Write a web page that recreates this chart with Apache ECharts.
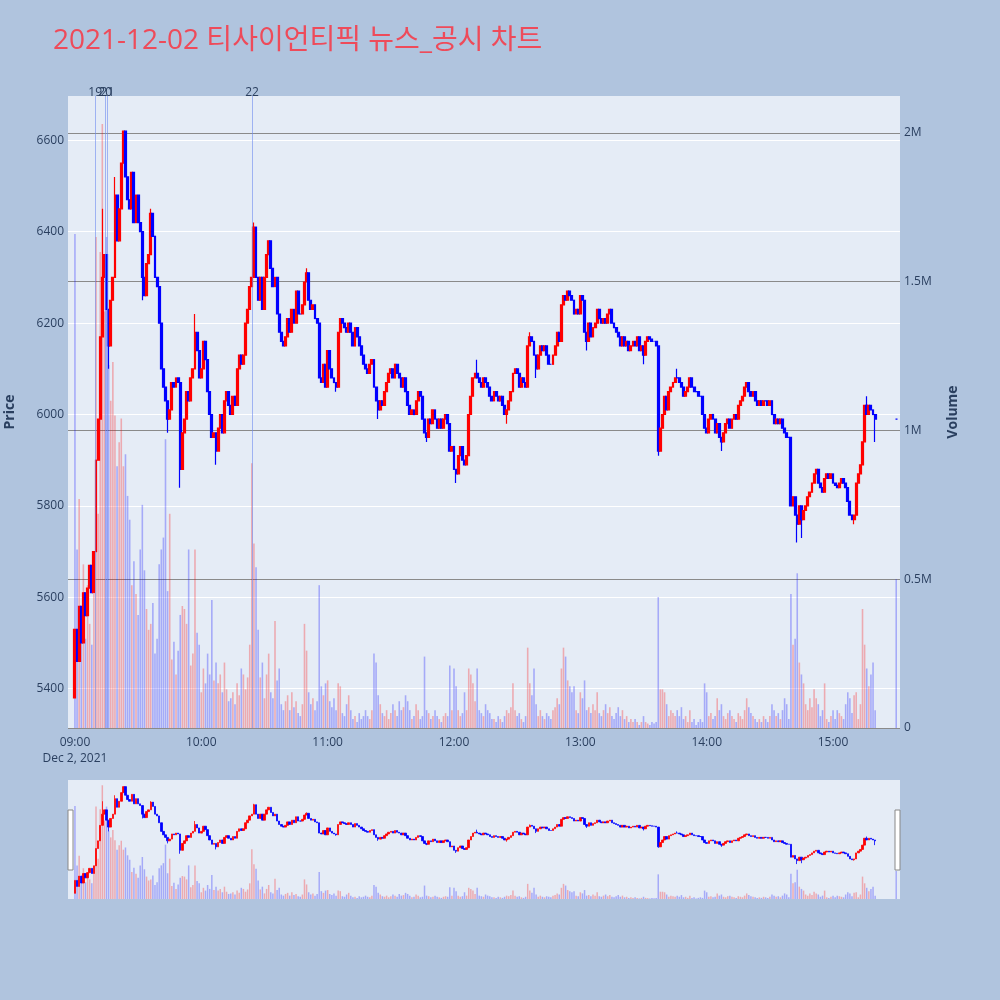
<!DOCTYPE html>
<html><head><meta charset="utf-8">
<script src="https://cdn.jsdelivr.net/npm/echarts@6/dist/echarts.min.js"></script>
<style>html,body{margin:0;padding:0;background:#b0c4de}#c{width:1000px;height:1000px}</style>
</head><body><div id="c"></div><script>
// ---------------- DATA ----------------
const chartTitle = '2021-12-02 티사이언티픽 뉴스_공시 차트';
const dateLabel = 'Dec 2, 2021';
const sessionStart = '09:00';           // first minute candle
const firstOpen = 5380;                 // opening price of the first candle
// minute closes from 09:00 to 09:00+380 min
const closes = [
5530,5460,5580,5500,5610,5560,5620,5670,5610,5700,
5900,5990,6170,6300,6350,6230,6150,6250,6300,6480,
6380,6450,6550,6620,6520,6470,6450,6530,6420,6480,
6420,6400,6300,6260,6330,6350,6440,6390,6300,6280,
6200,6100,6060,6030,5990,6010,6070,6060,6080,6070,
5880,5960,5990,6050,6030,6080,6100,6180,6140,6080,
6100,6160,6120,6050,6000,5950,5960,5920,5970,6000,
5960,6030,6050,6020,6000,6040,6020,6100,6130,6110,
6130,6200,6230,6280,6300,6410,6300,6250,6300,6230,
6300,6350,6380,6320,6280,6300,6220,6180,6160,6150,
6170,6210,6180,6230,6200,6270,6220,6220,6240,6290,
6310,6250,6230,6240,6210,6200,6080,6070,6110,6060,
6140,6100,6080,6070,6060,6180,6210,6200,6190,6180,
6200,6180,6150,6190,6170,6150,6130,6110,6100,6090,
6110,6120,6060,6030,6010,6030,6020,6050,6070,6090,
6100,6080,6110,6090,6080,6060,6080,6050,6020,6000,
6010,6000,6030,6050,6040,5990,5960,5950,5990,5980,
6010,5990,5970,5990,5970,5990,6000,5980,5920,5930,
5880,5870,5910,5930,5900,5890,5910,6000,6040,6080,
6090,6080,6070,6060,6080,6070,6060,6040,6030,6050,
6040,6030,6040,6020,6000,6010,6030,6050,6090,6100,
6090,6060,6080,6070,6060,6150,6170,6160,6130,6100,
6130,6150,6140,6150,6130,6110,6110,6130,6150,6180,
6160,6240,6260,6250,6270,6260,6250,6220,6230,6220,
6260,6250,6180,6160,6200,6170,6190,6200,6230,6210,
6200,6210,6200,6220,6230,6200,6190,6180,6170,6150,
6170,6150,6160,6140,6150,6160,6150,6170,6140,6150,
6130,6160,6170,6165,6160,6160,6150,5920,5970,6000,
6040,6010,6050,6060,6070,6080,6080,6070,6060,6040,
6050,6060,6080,6060,6050,6050,6040,6040,6000,5970,
5960,5990,6000,5990,5960,5980,5950,5940,5960,5980,
5990,5970,5990,6000,5990,6020,6030,6040,6060,6070,
6050,6040,6050,6030,6020,6030,6020,6030,6030,6020,
6030,6000,5980,5990,5980,5990,5970,5960,5950,5950,
5800,5820,5780,5760,5800,5770,5790,5800,5820,5830,
5850,5870,5880,5850,5840,5830,5860,5870,5860,5870,
5850,5845,5840,5850,5860,5850,5840,5810,5780,5770,
5780,5850,5870,5890,5940,6020,6000,6020,6010,6000,
5990
];
// minute volumes in thousands of shares
const volumesK = [
1660,600,770,380,550,300,480,350,280,450,
1650,720,1600,2030,1400,1650,1220,1100,1230,1050,
880,960,1040,880,920,780,700,480,560,450,
380,600,750,530,400,330,350,420,250,300,
550,600,640,970,460,720,230,290,180,260,
380,410,400,350,600,210,250,600,320,280,
120,200,150,250,180,430,160,220,150,180,
120,220,130,90,100,120,80,150,110,200,
180,130,170,280,890,620,540,330,170,220,
100,180,250,120,100,360,160,200,80,60,
90,110,60,120,70,90,50,40,80,350,
260,120,80,100,60,90,480,140,110,150,
160,90,70,100,60,150,140,50,40,80,
110,60,30,40,20,50,30,40,60,40,
30,60,250,220,110,80,50,40,60,30,
50,80,60,40,90,60,70,110,90,60,
30,40,80,60,30,40,240,60,50,30,
40,60,40,30,20,40,50,40,210,60,
200,140,60,40,50,120,60,200,180,150,
90,200,60,50,40,80,60,50,30,30,
20,40,30,20,40,60,50,70,150,60,
40,50,30,20,40,270,150,110,200,80,
40,60,40,30,50,40,30,60,70,100,
80,200,270,240,160,140,120,140,60,50,
120,100,160,60,70,50,80,60,120,50,
40,60,80,50,70,40,30,50,70,40,
60,30,40,20,30,20,30,20,10,20,
40,20,15,10,20,15,20,440,130,130,
120,80,40,60,50,40,60,40,70,30,
40,20,60,20,30,10,20,30,20,150,
120,40,50,30,40,100,60,80,40,30,
50,60,40,30,20,50,40,30,60,100,
70,50,40,30,20,30,20,40,30,20,
40,80,60,40,50,30,60,100,80,30,
450,280,300,520,220,180,150,80,60,100,
70,130,100,80,40,60,150,30,20,40,
60,30,60,50,40,30,80,120,100,50,
110,120,30,80,400,280,200,140,180,220,
60
];
// wick extremes beyond the candle bodies: [minute index, price]
const wickLows = [[0,5380],[16,6100],[32,6250],[44,5960],[50,5840],[67,5890],[124,6050],[144,5990],[167,5940],[181,5850],[205,5980],[219,6080],[243,6140],[270,6110],[277,5910],[307,5920],[343,5720],[345,5730],[370,5760],[380,5940]];
const wickHighs = [[13,6450],[19,6520],[36,6450],[57,6220],[85,6420],[110,6320],[191,6120],[216,6180],[234,6270],[286,6100],[376,6040]];
// closing auction
const closingTime = '15:30';
const closingPrice = 5990;
const closingVolumeK = 500;
// news / disclosure markers
const newsLabels = ['19','20','21','22'];
const newsTimes = ['09:09:36','09:14:20','09:15:25','10:24:05'];
// axis ticks
const priceTicks = [5400,5600,5800,6000,6200,6400,6600];
const volumeTicks = [0,500000,1000000,1500000,2000000];
const volumeTickLabels = ['0','0.5M','1M','1.5M','2M'];
const hourTicks = ['09:00','10:00','11:00','12:00','13:00','14:00','15:00'];

// ---------------- BUILD ----------------
function toMin(t){const p=t.split(':').map(Number);const s=sessionStart.split(':').map(Number);return (p[0]*60+p[1]+(p[2]||0)/60)-(s[0]*60+s[1]);}
function fmtMin(m){const s=sessionStart.split(':').map(Number);const tot=s[0]*60+s[1]+m;const h=Math.floor(tot/60),mm=tot%60;return String(h).padStart(2,'0')+':'+String(mm).padStart(2,'0');}
const lowMap={},highMap={};
wickLows.forEach(([i,v])=>lowMap[i]=v);wickHighs.forEach(([i,v])=>highMap[i]=v);
const candles=[],vols=[];
const RED='#ff0000',BLUE='#0000ff',RED_V='rgba(255,0,0,0.28)',BLUE_V='rgba(0,0,255,0.28)';
closes.forEach((c,i)=>{
  const o=i===0?firstOpen:closes[i-1];
  let lo=Math.min(o,c),hi=Math.max(o,c);
  if(lowMap[i]!==undefined)lo=Math.min(lo,lowMap[i]);
  if(highMap[i]!==undefined)hi=Math.max(hi,highMap[i]);
  candles.push([i,o,c,lo,hi]);
  const up=i>0&&c>closes[i-1];
  vols.push({value:[i,volumesK[i]*1000],itemStyle:{color:up?RED_V:BLUE_V}});
});
const cm=toMin(closingTime);
const lastC=closes[closes.length-1];
candles.push([cm,closingPrice,closingPrice,closingPrice,closingPrice]);
vols.push({value:[cm,closingVolumeK*1000],itemStyle:{color:closingPrice>lastC?RED_V:BLUE_V}});

const hourVals=hourTicks.map(toMin);
const X_MIN=-3.3,X_MAX=391.8;
const P_MIN=5314,P_MAX=6697;
const V_MAX=2124000;
const FONT="'Open Sans', 'Noto Sans CJK KR', sans-serif";
const TXT='#2a3f5f';

const chart=echarts.init(document.getElementById('c'),null,{renderer:'canvas'});
chart.setOption({
  animation:false,
  backgroundColor:'#b0c4de',
  title:{text:chartTitle,left:48,top:22,textStyle:{fontSize:28,fontWeight:'normal',color:'#ee4b5a',fontFamily:FONT}},
  grid:[
    {left:68,right:100,top:96,bottom:272,show:true,backgroundColor:'#e5ecf6',borderWidth:0,containLabel:false,outerBoundsMode:'none'},
    {left:68,right:100,top:780,bottom:101,show:true,backgroundColor:'#e5ecf6',borderWidth:0,containLabel:false,outerBoundsMode:'none'}
  ],
  xAxis:[
    {type:'value',gridIndex:0,min:X_MIN,max:X_MAX,
     axisLine:{show:false},axisTick:{show:false,customValues:hourVals},splitLine:{show:false},
     axisLabel:{customValues:hourVals,margin:7,color:TXT,fontSize:12,fontFamily:FONT,lineHeight:16,
       formatter:v=>{const s=fmtMin(Math.round(v));return Math.round(v)===0?s+'\n'+dateLabel:s;}}},
    {type:'value',gridIndex:1,min:X_MIN,max:X_MAX,show:false,splitLine:{show:false}}
  ],
  yAxis:[
    {type:'value',gridIndex:0,min:P_MIN,max:P_MAX,position:'left',
     name:'Price',nameLocation:'middle',nameRotate:90,nameGap:51,
     nameTextStyle:{color:TXT,fontSize:14,fontWeight:'bold',fontFamily:FONT},
     axisLine:{show:false},axisTick:{show:false,customValues:priceTicks},
     axisLabel:{customValues:priceTicks,margin:4,color:TXT,fontSize:12,fontFamily:FONT,formatter:v=>String(v)},
     splitLine:{show:true,lineStyle:{color:'#ffffff',width:1}}},
    {type:'value',gridIndex:0,min:0,max:V_MAX,position:'right',
     name:'Volume',nameLocation:'middle',nameRotate:90,nameGap:46,
     nameTextStyle:{color:TXT,fontSize:14,fontWeight:'bold',fontFamily:FONT},
     axisLine:{show:false},axisTick:{show:false,customValues:volumeTicks},
     axisLabel:{customValues:volumeTicks,margin:4,color:TXT,fontSize:12,fontFamily:FONT,
       formatter:v=>volumeTickLabels[volumeTicks.indexOf(v)]},
     splitLine:{show:true,lineStyle:{color:'#8a8a8a',width:1}}},
    {type:'value',gridIndex:1,min:P_MIN,max:P_MAX,show:false,splitLine:{show:false}},
    {type:'value',gridIndex:1,min:0,max:V_MAX,show:false,splitLine:{show:false}}
  ],
  series:[
    {type:'bar',xAxisIndex:0,yAxisIndex:1,data:vols,barWidth:1.6,z:1,silent:true},
    {type:'candlestick',xAxisIndex:0,yAxisIndex:0,data:candles,encode:{x:0,y:[1,2,3,4]},
     barWidth:2.4,z:3,silent:true,
     itemStyle:{color:RED,color0:BLUE,borderColor:RED,borderColor0:BLUE,borderColorDoji:BLUE,borderWidth:1.2},
     markLine:{silent:true,symbol:['none','none'],animation:false,
       lineStyle:{color:'rgba(110,140,240,0.6)',width:1,type:'solid'},
       label:{show:true,position:'end',formatter:'{b}',color:TXT,fontSize:12,fontFamily:FONT,distance:-3},
       data:newsTimes.map((t,k)=>({name:newsLabels[k],xAxis:toMin(t)}))}},
    {type:'bar',xAxisIndex:1,yAxisIndex:3,data:vols,barWidth:1.5,z:1,silent:true},
    {type:'candlestick',xAxisIndex:1,yAxisIndex:2,data:candles,encode:{x:0,y:[1,2,3,4]},
     barWidth:2,z:3,silent:true,
     itemStyle:{color:RED,color0:BLUE,borderColor:RED,borderColor0:BLUE,borderColorDoji:BLUE,borderWidth:0.8}}
  ],
  graphic:[
    {type:'rect',shape:{x:68,y:810,width:5,height:60},style:{fill:'#ffffff',stroke:'#888',lineWidth:1},z:100},
    {type:'rect',shape:{x:895,y:810,width:5,height:60},style:{fill:'#ffffff',stroke:'#888',lineWidth:1},z:100}
  ]
});
</script></body></html>
